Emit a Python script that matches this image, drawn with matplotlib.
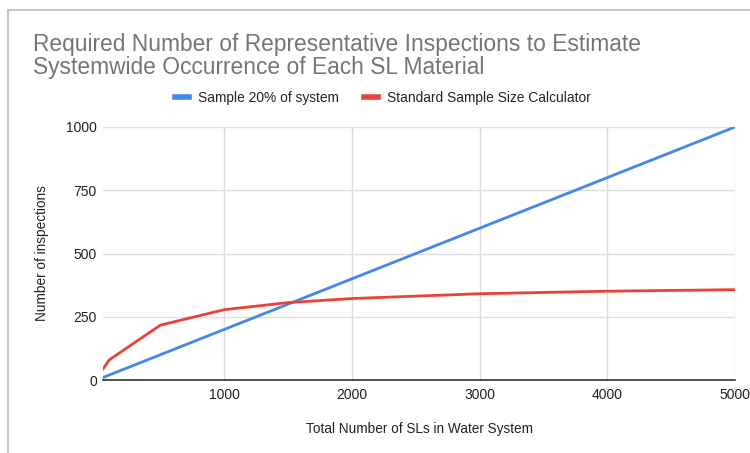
import matplotlib.pyplot as plt
from matplotlib.lines import Line2D

plt.rcParams['font.family'] = ['Liberation Sans', 'DejaVu Sans']

system_size = [50, 100, 500, 1000, 1500, 2000, 3000, 4000, 5000]
sample_20pct = [10, 20, 100, 200, 300, 400, 600, 800, 1000]
sample_calc = [44, 80, 217, 278, 306, 322, 341, 351, 357]

x_ticks = [1000, 2000, 3000, 4000, 5000]
y_ticks = [0, 250, 500, 750, 1000]

blue = '#4285f4'
red = '#ea4335'
grid_color = '#dddddd'
text_color = '#222222'

fig = plt.figure(figsize=(7.5, 4.53), dpi=100)
ax = fig.add_axes([103 / 750, 1 - 380 / 453, (735 - 103) / 750, (380 - 127) / 453])

ax.plot(system_size, sample_20pct, color=blue, lw=2, label='Sample 20% of system', zorder=3)
ax.plot(system_size, sample_calc, color=red, lw=2, label='Standard Sample Size Calculator', zorder=3)

ax.set_xlim(50, 5000)
ax.set_ylim(0, 1000)
ax.set_xticks(x_ticks)
ax.set_yticks(y_ticks)
ax.grid(True, color=grid_color, lw=1, zorder=0)
for s in ['top', 'right', 'left']:
    ax.spines[s].set_visible(False)
ax.spines['bottom'].set_color('#333333')
ax.spines['bottom'].set_linewidth(1.2)
ax.tick_params(axis='both', length=0, labelsize=10, labelcolor=text_color)
ax.tick_params(axis='x', pad=5.5)
ax.tick_params(axis='y', pad=4.5)

ax.set_xlabel('Total Number of SLs in Water System', fontsize=9.8, color=text_color, labelpad=15)
ax.set_ylabel('Number of inspections', fontsize=9.8, color=text_color, labelpad=12)

fig.text(33 / 750, 1 - 56 / 453,
         'Required Number of Representative Inspections to Estimate\nSystemwide Occurrence of Each SL Material',
         fontsize=16.4, color='#757575', ha='left', va='center', linespacing=0.95)

handles = [Line2D([], [], color=blue, lw=4), Line2D([], [], color=red, lw=4)]
fig.legend(handles, ['Sample 20% of system', 'Standard Sample Size Calculator'],
           loc='center', bbox_to_anchor=(383 / 750, 1 - 98 / 453), ncol=2, frameon=False,
           fontsize=9.9, handlelength=1.0, handletextpad=0.7, columnspacing=1.8,
           labelcolor=text_color)

# spreadsheet frame around the chart
fig.add_artist(Line2D([8 / 750, 8 / 750], [0, 1 - 10 / 453], color='#bbbbbb', lw=1.2,
                      transform=fig.transFigure))
fig.add_artist(Line2D([8 / 750, 1], [1 - 10 / 453, 1 - 10 / 453], color='#bbbbbb', lw=1.2,
                      transform=fig.transFigure))

fig.savefig('out.png', dpi=100)
